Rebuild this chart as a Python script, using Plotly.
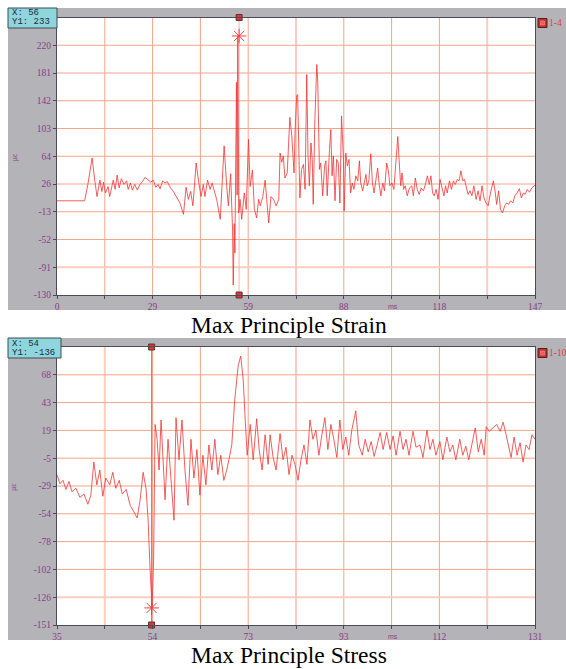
import plotly.graph_objects as go

W, H = 566, 669

# ---------------- data ----------------
STRAIN_T = [0, 8.5, 9.5, 10.3, 10.8, 11.6, 12.3, 13.2, 13.8, 14.3, 14.9, 15.7, 16.2, 17.3, 17.9, 18.5,
            19.1, 19.8, 20.6, 21.4, 21.9, 22.6, 23.2, 23.9, 24.7, 25.5, 26.3, 27.1, 28.1, 28.8, 29.6,
            30.4, 31.1, 31.7, 32.5, 33.2, 33.9, 34.8, 35.8, 36.6, 37.8, 38.9, 39.7, 40.4, 41.1, 41.8,
            42.8, 43.5, 44.3, 45.0, 45.5, 46.3, 47.1, 47.7, 48.6, 49.1, 50.2, 50.7, 51.4, 52.2, 52.7,
            53.4, 54.0, 54.2, 54.5, 54.7, 55.0, 55.2, 55.4, 55.6, 55.9, 56.3, 56.8, 57.6, 58.2, 58.9,
            59.4, 60.1, 60.7, 61.4, 62.0, 62.5, 63.3, 64.0, 64.5, 65.1, 65.8, 66.6, 67.4, 68.2, 68.6,
            69.1, 69.6, 70.1, 70.8, 71.3, 71.6, 72.2, 72.7, 72.9, 73.2, 73.7, 74.0, 74.4, 74.7, 75.2,
            75.8, 76.3, 76.8, 77.2, 77.6, 78.1, 78.5, 78.8, 79.3, 79.9, 80.2, 80.7, 81.1, 81.7, 82.3,
            82.7, 83.1, 83.8, 84.2, 84.6, 85.0, 85.5, 86.0, 86.5, 87.0, 87.5, 88.1, 88.3, 88.8, 89.3,
            89.8, 90.3, 90.8, 91.3, 91.9, 92.5, 93.0, 93.4, 94.0, 94.5, 95.0, 95.4, 95.9, 96.5, 97.0,
            97.5, 98.0, 98.6, 99.1, 99.6, 100.2, 100.7, 101.4, 101.9, 102.4, 103.0, 103.6, 104.3, 104.8,
            105.2, 105.7, 106.1, 106.6, 107.1, 107.7, 108.4, 109.1, 109.6, 110.2, 110.8, 111.4, 112.0,
            112.7, 113.3, 113.9, 114.5, 115.0, 115.5, 116.0, 116.6, 117.2, 117.8, 118.4, 119.0, 119.5,
            120.0, 120.7, 121.3, 121.9, 122.5, 123.1, 123.7, 124.2, 124.8, 125.3, 125.8, 126.4, 127.0,
            127.6, 128.2, 128.9, 129.5, 130.1, 130.7, 131.3, 131.9, 132.6, 133.3, 134.2, 134.8, 135.2,
            135.8, 136.4, 137.0, 137.7, 138.3, 138.9, 139.5, 140.2, 140.8, 141.5, 142.2, 142.8, 143.4,
            144.0, 144.6, 145.3, 146.0, 146.7, 147.0]
STRAIN_V = [2, 2, 25, 50, 62, 31, 8, 31, 15, 28, 13, 22, 8, 31, 18, 38,
            20, 33, 25, 30, 18, 27, 17, 25, 17, 25, 29, 35, 31, 28, 31,
            21, 25, 19, 30, 27, 29, 21, 15, 8, -1, -17, 21, 4, 15, -5,
            55, 31, 8, 25, 8, 31, 18, 27, 11, 4, -24, 18, 79, 22, -5,
            40, -40, -116, -30, -71, 40, 168, 10, 233, -15, 4, -24, 13, -10, 88,
            22, 45, -10, -22, 4, -5, 8, 31, 4, -29, 8, 4, -5, 4, 69,
            56, 65, 34, 41, 93, 119, 93, 55, 41, 97, 149, 151, 74, 6, 46,
            53, 18, 179, 65, 23, 83, 60, -3, 116, 193, 168, 46, 55, 9, 51,
            58, 9, 74, 102, 37, 65, 2, 60, 55, -1, 121, 60, -12, 69, 51,
            60, 13, 27, 18, 37, 30, 58, 27, 16, 27, 39, 23, 30, 68, 27,
            13, 27, 48, 25, 9, 27, 16, 55, 44, 23, 27, 18, 55, 92,
            60, 23, 41, 18, 23, 9, 20, 23, 9, 34, 18, 11, 20,
            16, 25, 37, 25, 37, 13, 9, 18, 4, 32, 18, 9, 23,
            13, 30, 18, 30, 25, 32, 30, 44, 30, 32, 23, 11, 16,
            9, 23, 4, 16, 2, 23, 6, -1, -5, 13, 30, 13, -3,
            16, -10, -15, -5, -1, -3, 2, -1, 9, 13, 19, 6, 13,
            11, 18, 14, 20, 23, 24]

STRESS_T = [35.0, 35.6, 36.2, 36.8, 37.4, 38.0, 38.8, 39.6, 40.4, 41.2, 41.8, 42.4, 43.0, 43.6, 44.2,
            44.8, 45.6, 46.2, 46.8, 47.5, 48.1, 48.9, 49.7, 50.5, 51.1, 51.7, 52.3, 52.9, 53.3, 53.7,
            53.9, 54.1, 54.4, 54.7, 55.1, 55.5, 55.9, 56.3, 56.7, 57.3, 57.9, 58.5, 58.9, 59.5, 60.1,
            60.7, 61.3, 61.9, 62.5, 63.1, 63.7, 64.3, 64.9, 65.5, 66.1, 66.7, 67.3, 67.9, 68.5, 69.1,
            69.7, 70.1, 70.7, 71.4, 71.9, 72.4, 72.8, 73.2, 73.8, 74.4, 75.1, 75.6, 76.2, 76.8, 77.4,
            77.8, 78.4, 79.0, 79.8, 80.4, 81.0, 81.6, 82.2, 82.8, 83.4, 84.0, 84.6, 85.2, 85.8, 86.4,
            87.0, 87.6, 88.2, 88.8, 89.4, 90.0, 90.6, 91.2, 91.8, 92.4, 93.0, 93.6, 94.2, 95.0, 95.6,
            96.3, 96.9, 97.5, 98.1, 98.7, 99.3, 99.9, 100.5, 101.2, 101.9, 102.5, 103.1, 103.9, 104.5,
            105.1, 105.7, 106.5, 107.1, 107.9, 108.5, 109.3, 109.9, 110.5, 111.1, 111.9, 112.5, 113.3,
            113.9, 114.5, 115.1, 115.9, 116.5, 117.1, 117.7, 118.3, 119.0, 119.6, 120.2, 120.8, 121.2,
            121.8, 122.6, 123.3, 124.0, 124.6, 125.2, 125.6, 126.2, 126.8, 127.4, 128.0, 128.6, 129.2,
            129.8, 130.4, 131.0]
STRESS_V = [-19, -27, -24, -32, -25, -34, -31, -39, -36, -45, -37, -8, -28, -15, -38,
            -22, -28, -17, -31, -24, -36, -32, -46, -52, -57, -41, -17, -32, -59, -103,
            -129, -136, -94, 25, 12, -15, 29, -2, -41, 12, -24, -59, 31, -6, 29,
            -15, -46, 12, -22, 3, -37, -2, -28, 7, -15, 12, -19, -2, -24, -15,
            -2, 7, 47, 77, 85, 64, 29, -2, 25, -6, 30, 3, -15, 16, -10,
            16, -4, -15, 17, -6, 5, -19, -2, -10, -24, -6, 7, -10, 29, 12,
            20, -2, 16, 31, 3, 25, 12, -4, 29, 3, 14, -2, 20, 37, 7,
            -2, 12, 1, 10, -3, 7, 18, 3, 18, 3, 15, -2, 19, 3,
            12, -2, 19, 5, 7, -4, 20, 3, 12, -2, 10, -6, 14,
            1, 7, -6, 12, -2, 6, -6, 7, 22, 1, 12, -2, 23,
            19, 22, 25, 19, 27, 16, 9, -4, 14, -2, 9, -8, 7,
            3, 16, 12]

STRAIN_XRANGE = [0, 147]
STRAIN_YRANGE = [-130, 258.9]
STRAIN_XLABELS = ["0", "29", "59", "88", "118", "147"]
STRAIN_YLABELS = ["-130", "-91", "-52", "-13", "26", "64", "103", "142", "181", "220"]

STRESS_XRANGE = [35, 131]
STRESS_YRANGE = [-151, 93]
STRESS_XLABELS = ["35", "54", "73", "93", "112", "131"]
STRESS_YLABELS = ["-151", "-126", "-102", "-78", "-54", "-29", "-5", "19", "43", "68"]

STRAIN_CURSOR = (56, 233)
STRESS_CURSOR = (54, -136)
CHANNELS = ["1-4", "1-10"]
CAPTIONS = ["Max Principle Strain", "Max Principle Stress"]
UNIT_Y = "με"
UNIT_X = "ms"

# ---------------- layout helpers ----------------
def fx(px):
    return px / W

def fy(py):
    return 1 - py / H

GRAY = "#b4b4b8"
GRID = "#f3a58b"
GRID_LIGHT = "#fccdbf"
LINE = "#f03434"
TICKC = "#8a3c8a"
FRAME = "#4a4a58"

PLOT_L, PLOT_R = 57, 535
panels = [
    dict(top=17.5, bot=295, gtop=8, gbot=310, box_r=57,
         t=STRAIN_T, v=STRAIN_V, xr=STRAIN_XRANGE, yr=STRAIN_YRANGE,
         xl=STRAIN_XLABELS, yl=STRAIN_YLABELS, cur=STRAIN_CURSOR,
         cur_color="#f6b4b4", light_x=[5, 9], light_y=[1],
         ch=CHANNELS[0], cap=CAPTIONS[0], cap_y=325),
    dict(top=347, bot=625, gtop=338, gbot=640, box_r=61,
         t=STRESS_T, v=STRESS_V, xr=STRESS_XRANGE, yr=STRESS_YRANGE,
         xl=STRESS_XLABELS, yl=STRESS_YLABELS, cur=STRESS_CURSOR,
         cur_color="#f06060", light_x=[1, 5, 9], light_y=[1],
         ch=CHANNELS[1], cap=CAPTIONS[1], cap_y=655),
]

fig = go.Figure()
shapes = []
annotations = []

for i, p in enumerate(panels):
    n = "" if i == 0 else str(i + 1)
    xa, ya = "x" + n, "y" + n
    x0, x1 = p["xr"]
    y0, y1 = p["yr"]
    xt = [x0 + (x1 - x0) * k / 10 for k in range(11)]
    yt = [y0 + (y1 - y0) * k / 10 for k in range(11)]
    xtext = [p["xl"][k // 2] if k % 2 == 0 else "" for k in range(11)]
    ytext = p["yl"] + [""]
    cx, cy = p["cur"]

    # grid lines drawn as shapes below the traces
    for k in range(1, 10):
        light = k in p["light_x"]
        shapes.append(dict(type="line", xref=xa, yref=ya, layer="below",
                           x0=xt[k], x1=xt[k], y0=y0, y1=y1,
                           line=dict(color=GRID_LIGHT if light else GRID, width=2 if light else 1)))
    for k in range(1, 10):
        light = k in p["light_y"]
        shapes.append(dict(type="line", xref=xa, yref=ya, layer="below",
                           x0=x0, x1=x1, y0=yt[k], y1=yt[k],
                           line=dict(color=GRID_LIGHT if light else GRID, width=2 if light else 1)))
    # cursor line
    shapes.append(dict(type="line", xref=xa, yref=ya, layer="below",
                       x0=cx, x1=cx, y0=y0, y1=y1,
                       line=dict(color=p["cur_color"], width=1)))

    fig.add_trace(go.Scatter(x=p["t"], y=p["v"], mode="lines",
                             line=dict(color=LINE, width=0.8),
                             xaxis=xa, yaxis=ya, showlegend=False, hoverinfo="skip"))
    fig.add_trace(go.Scatter(x=[cx], y=[cy], mode="markers",
                             marker=dict(symbol="asterisk-open", size=12, color="#f04040",
                                         line=dict(color="#f04040", width=1)),
                             xaxis=xa, yaxis=ya, showlegend=False, hoverinfo="skip"))
    fig.add_trace(go.Scatter(x=[cx, cx], y=[y1, y0], mode="markers", cliponaxis=False,
                             marker=dict(symbol="square", size=6, color="#e83030",
                                         line=dict(color="#503838", width=1)),
                             xaxis=xa, yaxis=ya, showlegend=False, hoverinfo="skip"))

    axx = dict(domain=[fx(PLOT_L), fx(PLOT_R)], range=[x0, x1], anchor=ya,
               tickmode="array", tickvals=xt, ticktext=xtext, automargin=False,
               showgrid=False, zeroline=False,
               showline=True, mirror=True, linecolor=FRAME, linewidth=1,
               ticks="outside", ticklen=3, tickcolor=FRAME,
               tickfont=dict(family="Liberation Serif", size=9.5, color=TICKC))
    axy = dict(domain=[fy(p["bot"]), fy(p["top"])], range=[y0, y1], anchor=xa,
               tickmode="array", tickvals=yt, ticktext=ytext, automargin=False,
               showgrid=False, zeroline=False,
               showline=True, mirror=True, linecolor=FRAME, linewidth=1,
               ticks="outside", ticklen=3, tickcolor=FRAME,
               tickfont=dict(family="Liberation Serif", size=9.5, color=TICKC))
    fig.update_layout(**{"xaxis" + n: axx, "yaxis" + n: axy})

    # gray panel and white plot area
    shapes.append(dict(type="rect", xref="paper", yref="paper", layer="below",
                       x0=fx(8), x1=1, y0=fy(p["gbot"]), y1=fy(p["gtop"]),
                       fillcolor=GRAY, line=dict(width=0)))
    shapes.append(dict(type="rect", xref="paper", yref="paper", layer="below",
                       x0=fx(PLOT_L), x1=fx(PLOT_R), y0=fy(p["bot"]), y1=fy(p["top"]),
                       fillcolor="white", line=dict(width=0)))
    # info box
    shapes.append(dict(type="rect", xref="paper", yref="paper", layer="above",
                       x0=fx(8), x1=fx(p["box_r"]), y0=fy(p["gtop"] + 20), y1=fy(p["gtop"]),
                       fillcolor="#8fd5dc", line=dict(color="#3c4c54", width=1)))
    annotations.append(dict(xref="paper", yref="paper", x=fx(9.5), y=fy(p["gtop"] + 5.5),
                            xanchor="left", yanchor="middle", showarrow=False,
                            text="X: %d" % cx,
                            font=dict(family="Liberation Mono", size=9, color="#1c2c3c")))
    annotations.append(dict(xref="paper", yref="paper", x=fx(9.5), y=fy(p["gtop"] + 14.5),
                            xanchor="left", yanchor="middle", showarrow=False,
                            text="Y1: %d" % cy,
                            font=dict(family="Liberation Mono", size=9, color="#1c2c3c")))
    # channel legend icon + text
    shapes.append(dict(type="rect", xref="paper", yref="paper", layer="above",
                       x0=fx(538), x1=fx(547), y0=fy(p["gtop"] + 19.5), y1=fy(p["gtop"] + 10.5),
                       fillcolor="#c83030", line=dict(color="#4a2020", width=1)))
    shapes.append(dict(type="rect", xref="paper", yref="paper", layer="above",
                       x0=fx(540.5), x1=fx(544.5), y0=fy(p["gtop"] + 17), y1=fy(p["gtop"] + 13),
                       fillcolor="#e06060", line=dict(color="#f0a0a0", width=0.5)))
    annotations.append(dict(xref="paper", yref="paper", x=fx(547), y=fy(p["gtop"] + 15),
                            xanchor="left", yanchor="middle", showarrow=False,
                            text=p["ch"],
                            font=dict(family="Liberation Serif", size=9.5, color="#e04040")))
    # unit labels
    annotations.append(dict(xref="paper", yref="paper", x=fx(14), y=fy((p["top"] + p["bot"]) / 2 + 1),
                            xanchor="center", yanchor="middle", showarrow=False, textangle=-90,
                            text=UNIT_Y,
                            font=dict(family="Liberation Serif", size=8, color=TICKC)))
    annotations.append(dict(xref="paper", yref="paper", x=fx(393), y=fy(p["bot"] + 11.5),
                            xanchor="center", yanchor="middle", showarrow=False,
                            text=UNIT_X,
                            font=dict(family="Liberation Sans", size=7, color=TICKC)))
    # caption
    annotations.append(dict(xref="paper", yref="paper", x=fx(289), y=fy(p["cap_y"]),
                            xanchor="center", yanchor="middle", showarrow=False,
                            text=p["cap"],
                            font=dict(family="Liberation Serif", size=23.5, color="black")))

fig.update_layout(template="none", width=W, height=H, margin=dict(l=0, r=0, t=0, b=0, pad=0),
                  autosize=False,
                  paper_bgcolor="white", plot_bgcolor="white",
                  shapes=shapes, annotations=annotations, showlegend=False)

fig.write_html("out.html", config={"displayModeBar": False, "responsive": False},
               post_script="document.body.style.margin='0';document.body.style.overflow='hidden';")
